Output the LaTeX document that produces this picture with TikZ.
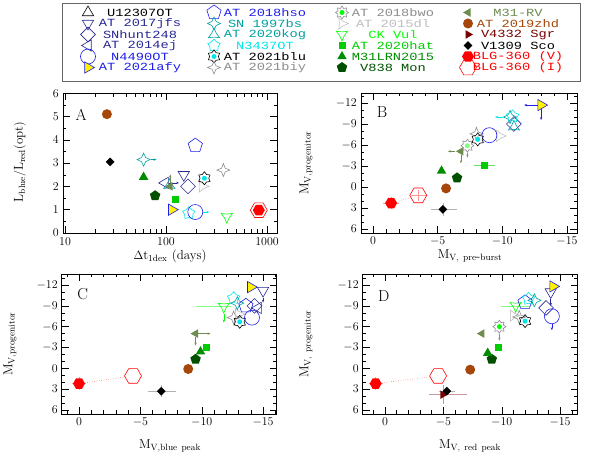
\documentclass[tikz,border=0pt]{standalone}
\usepackage{fontspec}
\usepackage{tikz}
\usetikzlibrary{shapes.geometric, arrows.meta, positioning}
\newfontfamily\legfont[FakeStretch=1.25]{Liberation Mono}
\definecolor{navyc}{RGB}{40,40,150}
\definecolor{bluec}{RGB}{30,30,235}
\definecolor{tealc}{RGB}{0,160,160}
\definecolor{cyanc}{RGB}{0,230,230}
\definecolor{grayc}{RGB}{140,140,140}
\definecolor{lgrayc}{RGB}{190,190,190}
\definecolor{ckgreen}{RGB}{0,255,0}
\definecolor{hatgreen}{RGB}{0,205,0}
\definecolor{lrngreen}{RGB}{0,140,0}
\definecolor{v838c}{RGB}{0,80,0}
\definecolor{olivec}{RGB}{110,140,80}
\definecolor{brownc}{RGB}{165,70,10}
\definecolor{maroonc}{RGB}{120,0,0}

\begin{document}
\begin{tikzpicture}[
    x=1bp, y=-1bp,
    mk/.style={inner sep=0pt, minimum size=13bp, line width=0.6pt},
    sU/.style={mk, regular polygon, regular polygon sides=3, draw=black},
    sJfs/.style={mk, regular polygon, regular polygon sides=3, shape border rotate=180, draw=navyc},
    sHunt/.style={mk, diamond, minimum size=15bp, draw=navyc},
    sEj/.style={mk, regular polygon, regular polygon sides=3, shape border rotate=90, draw=navyc},
    sN4490/.style={mk, circle, minimum size=15bp, draw=bluec},
    sAfy/.style={mk, regular polygon, regular polygon sides=3, shape border rotate=-90, draw=bluec, fill=yellow},
    sHso/.style={mk, regular polygon, regular polygon sides=5, minimum size=15bp, draw=bluec},
    sBs/.style={mk, star, star points=4, star point ratio=2.2, draw=tealc},
    sKog/.style={mk, star, star points=3, star point ratio=2.5, draw=tealc},
    sN3437/.style={mk, star, star points=5, draw=cyanc},
    sBlu/.style={mk, star, star points=6, draw=black},
    sBiy/.style={mk, star, star points=4, star point ratio=2.5, draw=grayc},
    sBwo/.style={mk, star, star points=8, draw=grayc},
    sDl/.style={mk, star, star points=3, star point ratio=2.5, shape border rotate=-90, draw=lgrayc},
    sCk/.style={mk, star, star points=3, star point ratio=2.5, shape border rotate=180, draw=ckgreen},
    sHat/.style={mk, rectangle, minimum size=7bp, fill=hatgreen},
    sLrn/.style={mk, regular polygon, regular polygon sides=3, minimum size=11bp, fill=lrngreen},
    sV838/.style={mk, regular polygon, regular polygon sides=5, minimum size=11bp, fill=v838c},
    sRv/.style={mk, regular polygon, regular polygon sides=3, shape border rotate=90, minimum size=10bp, fill=olivec},
    sZhd/.style={mk, circle, minimum size=10bp, fill=brownc},
    sV4332/.style={mk, regular polygon, regular polygon sides=3, shape border rotate=-90, minimum size=10bp, fill=maroonc},
    sV1309/.style={mk, diamond, minimum size=9bp, fill=black},
    sBlgV/.style={mk, regular polygon, regular polygon sides=6, minimum size=12bp, fill=red},
    sBlgI/.style={mk, regular polygon, regular polygon sides=6, minimum size=17bp, draw=red},
    cdot/.style={circle, inner sep=0pt, minimum size=5bp, fill=#1},
    leg/.style={font=\legfont\fontsize{11}{11}\selectfont, inner sep=0pt, text=#1},
    tick/.style={font=\fontsize{12}{12}\selectfont, inner sep=1pt},
    lab/.style={font=\fontsize{13}{13}\selectfont, inner sep=0pt},
    eb/.style={line width=0.4pt, draw=#1},
    arr/.style={-{Stealth[length=3bp]}, line width=0.5pt, draw=#1}
]
\useasboundingbox (0,0) rectangle (612,458);

% legend
\draw[gray!80!black, line width=0.8pt] (62,3) rectangle (580,81);
\foreach \s/\t/\c/\y in {sU/U12307OT/black/12.5, sJfs/AT 2017jfs/navyc/23.5, sHunt/SNhunt248/navyc/34.5,
    sEj/AT 2014ej/navyc/45.5, sN4490/N4490OT/bluec/56.5, sAfy/AT 2021afy/bluec/67.5} {
  \node[\s] at (88,\y) {};
  \node[leg=\c] at (140,\y) {\t};
}
\foreach \s/\t/\c/\y in {sHso/AT 2018hso/bluec/12.5, sBs/SN 1997bs/tealc/23.5, sKog/AT 2020kog/tealc/34.5,
    sN3437/N3437OT/cyanc/45.5, sBlu/AT 2021blu/black/56.5, sBiy/AT 2021biy/grayc/67.5} {
  \node[\s] at (214,\y) {};
  \node[leg=\c] at (265,\y) {\t};
}
\node[cdot=cyanc] (l-blu) at (214,56.5) {};
\foreach \s/\t/\c/\y in {sBwo/AT 2018bwo/grayc/12.5, sDl/AT 2015dl/lgrayc/23.5, sCk/CK Vul/ckgreen/34.5,
    sHat/AT 2020hat/hatgreen/45.5, sLrn/M31LRN2015/lrngreen/56.5, sV838/V838 Mon/v838c/67.5} {
  \node[\s] at (342,\y) {};
  \node[leg=\c] at (393,\y) {\t};
}
\node[cdot=ckgreen] (l-bwo) at (342,12.5) {};
\foreach \s/\t/\c/\y in {sRv/M31-RV/olivec/12.5, sZhd/AT 2019zhd/brownc/23.5, sV4332/V4332 Sgr/maroonc/34.5,
    sV1309/V1309 Sco/black/45.5, sBlgV/BLG-360 (V)/red/56.5, sBlgI/BLG-360 (I)/red/67.5} {
  \node[\s] at (468,\y) {};
  \node[leg=\c] at (518,\y) {\t};
}

% panel A
\begin{scope}[shift={(-36,233)}, x={(101bp,0)}, y={(0,23.3bp)}]
  \draw[line width=0.7pt] (0.98,0) rectangle (3.10,6);
  \foreach \t/\l in {1/10, 2/100, 3/1000} {
    \draw (\t,0) -- ++(0,7bp); \draw (\t,6) -- ++(0,-7bp);
    \node[tick, below=3bp] at (\t,0) {\l};
  }
  \foreach \d in {10,100} \foreach \m in {2,...,9} {
    \draw ({log10(\d*\m)},0) -- ++(0,3.5bp); \draw ({log10(\d*\m)},6) -- ++(0,-3.5bp);
  }
  \foreach \t in {0,...,6} {
    \draw (0.98,\t) -- ++(7bp,0); \draw (3.10,\t) -- ++(-7bp,0);
    \node[tick, left=3bp] at (0.98,\t) {\t};
  }
  \foreach \t in {0.5,1.5,...,5.5} {
    \draw (0.98,\t) -- ++(3.5bp,0); \draw (3.10,\t) -- ++(-3.5bp,0);
  }
  \node[lab, font=\fontsize{16}{16}\selectfont] (lA) at (1.16,5.05) {A};
  \node[sZhd] (a-zhd) at ({log10(26)},5.1) {};
  \node[sV1309] (a-v1309) at ({log10(28)},3.05) {};
  \node[sBs] (a-bs) at ({log10(60)},3.15) {};
  \draw[arr=tealc] (a-bs) -- ++(13bp,0);
  \node[sLrn] (a-lrn) at ({log10(60)},2.4) {};
  \node[sV838] (a-v838) at ({log10(78)},1.6) {};
  \node[sAfy] (a-afy) at ({log10(114)},1.0) {};
  \node[sHat] (a-hat) at ({log10(125)},1.45) {};
  \node[sEj] (a-ej) at ({log10(98)},2.15) {};
  \draw[arr=navyc] (a-ej) -- ++(14bp,0);
  \node[sKog] (a-kog) at ({log10(108)},2.05) {};
  \node[sRv] (a-rv) at ({log10(110)},2.0) {};
  \draw[arr=olivec] (a-rv) -- ++(0,12bp);
  \node[sJfs] (a-jfs) at ({log10(150)},2.5) {};
  \node[sHunt] (a-hunt) at ({log10(165)},2.0) {};
  \node[sHso] (a-hso) at ({log10(195)},3.75) {};
  \node[sN3437] (a-n3437) at ({log10(168)},0.85) {};
  \node[sN4490] (a-n4490) at ({log10(195)},0.9) {};
  \draw[arr=cyanc] (a-n4490) -- ++(14bp,0);
  \node[sDl] (a-dl) at ({log10(230)},2.0) {};
  \node[sBlu] (a-blu) at ({log10(240)},2.35) {};
  \node[cdot=cyanc] (a-bluc) at ({log10(240)},2.35) {};
  \node[sBiy] (a-biy) at ({log10(370)},2.7) {};
  \node[sCk] (a-ck) at ({log10(400)},0.7) {};
  \node[sBlgI] (a-blgi) at ({log10(830)},0.98) {};
  \node[sBlgV] (a-blgv) at ({log10(830)},0.98) {};
\end{scope}
\node[lab] (xA) at (170,256) {$\Delta\mathrm{t}_{\mathrm{1dex}}$ (days)};
\node[lab, rotate=90] (yA) at (20,162) {$\mathrm{L}_{\mathrm{blue}}/\mathrm{L}_{\mathrm{red}}\mathrm{(opt)}$};

% panel B
\begin{scope}[shift={(373,187)}, x={(-12.93bp,0)}, y={(0,-7bp)}]
  \draw[line width=0.7pt] (0.93,-13.43) rectangle (-15.8,6.57);
  \foreach \t in {0,-5,-10,-15} {
    \draw (\t,6.57) -- ++(0,7bp); \draw (\t,-13.43) -- ++(0,-7bp);
    \node[tick, below=3bp] at (\t,6.57) {$\t$};
  }
  \foreach \t in {0,-1,...,-15} {
    \draw (\t,6.57) -- ++(0,3.5bp); \draw (\t,-13.43) -- ++(0,-3.5bp);
  }
  \foreach \t in {-12,-9,...,6} {
    \draw (0.93,\t) -- ++(7bp,0); \draw (-15.8,\t) -- ++(-7bp,0);
    \node[tick, left=3bp] at (0.93,\t) {$\t$};
  }
  \foreach \t in {-13,...,6} {
    \draw (0.93,\t) -- ++(3.5bp,0); \draw (-15.8,\t) -- ++(-3.5bp,0);
  }
  \node[lab, font=\fontsize{16}{16}\selectfont] (lB) at (-0.7,-10.7) {B};
  \draw[eb=red!40] (-0.8,2.3) -- (-2.0,2.3) (-1.4,1.4) -- (-1.4,3.2);
  \draw[eb=red!40] (-2.9,1.2) -- (-4.1,1.2) (-3.5,0.4) -- (-3.5,2.0);
  \draw[eb=gray!60] (-4.5,3.2) -- (-6.5,3.2) (-5.4,2.3) -- (-5.4,4.1);
  \draw[eb=hatgreen!60] (-7.8,-3.1) -- (-9.4,-3.1);
  \node[sBlgV] (b-blgv) at (-1.4,2.3) {};
  \node[sBlgI] (b-blgi) at (-3.5,1.2) {};
  \draw[red, dotted] (b-blgv) -- (b-blgi);
  \node[sV1309] (b-v1309) at (-5.4,3.2) {};
  \node[sZhd] (b-zhd) at (-5.65,0.2) {};
  \node[sLrn] (b-lrn) at (-5.3,-2.3) {};
  \node[sV838] (b-v838) at (-6.5,-1.3) {};
  \node[sHat] (b-hat) at (-8.6,-3.1) {};
  \node[sRv] (b-rv) at (-6.8,-5.1) {};
  \draw[arr=olivec] (b-rv) -- ++(-13bp,0);
  \draw[arr=olivec] (b-rv) -- ++(0,-12bp);
  \node[sBwo] (b-bwo) at (-7.3,-5.9) {};
  \node[cdot=ckgreen!50] (b-bwoc) at (-7.3,-5.9) {};
  \draw[arr=grayc] (b-bwo) -- ++(0,-12bp);
  \node[sDl] (b-dl) at (-9.8,-7.3) {};
  \node[sBiy] (b-biy) at (-8.0,-7.6) {};
  \node[sN4490] (b-n4490) at (-9.0,-7.4) {};
  \node[sBlu] (b-blu) at (-8.1,-6.8) {};
  \node[cdot=cyanc] (b-bluc) at (-8.1,-6.8) {};
  \node[sHunt] (b-hunt) at (-10.9,-9.0) {};
  \node[sKog] (b-kog) at (-10.9,-8.6) {};
  \node[sBs] (b-bs) at (-10.6,-10.0) {};
  \draw[arr=cyanc] (b-bs) -- ++(-15bp,0);
  \node[sN3437] (b-n3437) at (-10.8,-10.1) {};
  \node[sAfy] (b-afy) at (-13.0,-11.7) {};
  \draw[arr=bluec] (b-afy) -- ++(-17bp,0);
  \draw[arr=bluec] (b-afy) -- ++(0,-15bp);
\end{scope}
\node[lab] (xB) at (470,256) {$\mathrm{M}_{\mathrm{V,\ pre\mbox{-}burst}}$};
\node[lab, rotate=90] (yB) at (306,163) {$\mathrm{M}_{\mathrm{V,progenitor}}$};

% panel C
\begin{scope}[shift={(79,368.3)}, x={(-12.27bp,0)}, y={(0,-6.94bp)}]
  \draw[line width=0.7pt] (1.4,-13.59) rectangle (-16.1,6.58);
  \foreach \t in {0,-5,-10,-15} {
    \draw (\t,6.58) -- ++(0,7bp); \draw (\t,-13.59) -- ++(0,-7bp);
    \node[tick, below=3bp] at (\t,6.58) {$\t$};
  }
  \foreach \t in {1,0,...,-16} {
    \draw (\t,6.58) -- ++(0,3.5bp); \draw (\t,-13.59) -- ++(0,-3.5bp);
  }
  \foreach \t in {-12,-9,...,6} {
    \draw (1.4,\t) -- ++(7bp,0); \draw (-16.1,\t) -- ++(-7bp,0);
    \node[tick, left=3bp] at (1.4,\t) {$\t$};
  }
  \foreach \t in {-13,...,6} {
    \draw (1.4,\t) -- ++(3.5bp,0); \draw (-16.1,\t) -- ++(-3.5bp,0);
  }
  \node[lab, font=\fontsize{16}{16}\selectfont] (lC) at (-0.3,-10.7) {C};
  \draw[eb=red!40] (0.6,2.2) -- (-0.6,2.2) (0,1.3) -- (0,3.1);
  \draw[eb=gray!60] (-5.6,3.3) -- (-7.9,3.3) (-6.7,2.4) -- (-6.7,4.2);
  \draw[eb=ckgreen!50] (-9.5,-9.0) -- (-12.4,-9.0);
  \node[sBlgV] (c-blgv) at (0,2.2) {};
  \node[sBlgI] (c-blgi) at (-4.4,1.1) {};
  \draw[red, dotted] (c-blgv) -- (c-blgi);
  \node[sV1309] (c-v1309) at (-6.7,3.3) {};
  \node[sZhd] (c-zhd) at (-8.9,0.1) {};
  \node[sV838] (c-v838) at (-9.5,-1.3) {};
  \node[sLrn] (c-lrn) at (-9.9,-2.4) {};
  \node[sHat] (c-hat) at (-10.4,-3.0) {};
  \node[sRv] (c-rv) at (-9.5,-5.0) {};
  \draw[arr=olivec] (c-rv) -- ++(15bp,0);
  \draw[arr=olivec] (c-rv) -- ++(0,-12bp);
  \node[sCk] (c-ck) at (-11.8,-8.9) {};
  \draw[arr=ckgreen] (c-ck) -- ++(0,-16bp);
  \node[sBiy] (c-biy) at (-12.6,-7.3) {};
  \node[sDl] (c-dl) at (-13.0,-7.8) {};
  \node[sBlu] (c-blu) at (-13.1,-6.7) {};
  \node[cdot=cyanc] (c-bluc) at (-13.1,-6.7) {};
  \node[sN3437] (c-n3437) at (-12.6,-10.1) {};
  \node[sBs] (c-bs) at (-12.9,-9.4) {};
  \node[sN4490] (c-n4490) at (-14.1,-7.3) {};
  \node[sHso] (c-hso) at (-13.6,-9.0) {};
  \node[sHunt] (c-hunt) at (-14.3,-9.0) {};
  \node[sEj] (c-ej) at (-14.6,-8.7) {};
  \node[sAfy] (c-afy) at (-14.0,-11.7) {};
  \node[sJfs] (c-jfs) at (-15.0,-11.2) {};
  \draw[arr=navyc] (c-jfs) -- ++(0,-12bp);
\end{scope}
\node[lab] (xC) at (170,446) {$\mathrm{M}_{\mathrm{V,blue\ peak}}$};
\node[lab, rotate=90] (yC) at (10,344) {$\mathrm{M}_{\mathrm{V,progenitor}}$};

% panel D
\begin{scope}[shift={(385,368.3)}, x={(-11.67bp,0)}, y={(0,-6.94bp)}]
  \draw[line width=0.7pt] (1.9,-13.59) rectangle (-16.5,6.58);
  \foreach \t in {0,-5,-10,-15} {
    \draw (\t,6.58) -- ++(0,7bp); \draw (\t,-13.59) -- ++(0,-7bp);
    \node[tick, below=3bp] at (\t,6.58) {$\t$};
  }
  \foreach \t in {1,0,...,-16} {
    \draw (\t,6.58) -- ++(0,3.5bp); \draw (\t,-13.59) -- ++(0,-3.5bp);
  }
  \foreach \t in {-12,-9,...,6} {
    \draw (1.9,\t) -- ++(7bp,0); \draw (-16.5,\t) -- ++(-7bp,0);
    \node[tick, left=3bp] at (1.9,\t) {$\t$};
  }
  \foreach \t in {-13,...,6} {
    \draw (1.9,\t) -- ++(3.5bp,0); \draw (-16.5,\t) -- ++(-3.5bp,0);
  }
  \node[lab, font=\fontsize{16}{16}\selectfont] (lD) at (0.1,-10.4) {D};
  \draw[eb=red!40] (1.4,2.2) -- (0.2,2.2) (0.8,1.3) -- (0.8,3.1);
  \draw[eb=maroonc!40] (-3.8,3.8) -- (-7.0,3.8) (-5.0,2.4) -- (-5.0,5.2);
  \draw[eb=gray!60] (-4.6,3.3) -- (-6.0,3.3);
  \draw[eb=ckgreen!50] (-9.9,-9.0) -- (-12.4,-9.0);
  \node[sBlgV] (d-blgv) at (0.8,2.2) {};
  \node[sBlgI] (d-blgi) at (-4.55,1.1) {};
  \draw[red, dotted] (d-blgv) -- (d-blgi);
  \node[sV4332] (d-v4332) at (-4.95,3.8) {};
  \node[sV1309] (d-v1309) at (-5.3,3.3) {};
  \node[sZhd] (d-zhd) at (-7.3,0.2) {};
  \node[sV838] (d-v838) at (-9.15,-1.3) {};
  \node[sLrn] (d-lrn) at (-8.8,-2.2) {};
  \node[sHat] (d-hat) at (-9.7,-3.0) {};
  \node[sRv] (d-rv) at (-8.3,-5.0) {};
  \node[sBwo] (d-bwo) at (-9.8,-6.0) {};
  \node[cdot=ckgreen] (d-bwoc) at (-9.8,-6.0) {};
  \draw[arr=grayc] (d-bwo) -- ++(0,-14bp);
  \node[sCk] (d-ck) at (-11.2,-9.0) {};
  \node[sDl] (d-dl) at (-11.0,-7.6) {};
  \node[sBiy] (d-biy) at (-11.5,-7.4) {};
  \node[sBlu] (d-blu) at (-12.0,-6.8) {};
  \node[cdot=cyanc] (d-bluc) at (-12.0,-6.8) {};
  \node[sHso] (d-hso) at (-12.0,-9.5) {};
  \node[sN3437] (d-n3437) at (-12.3,-10.0) {};
  \node[sBs] (d-bs) at (-12.8,-9.8) {};
  \node[sHunt] (d-hunt) at (-13.8,-8.7) {};
  \node[sN4490] (d-n4490) at (-14.3,-7.5) {};
  \draw[arr=bluec] (d-n4490) -- ++(0,-14bp);
  \node[sJfs] (d-jfs) at (-14.2,-11.0) {};
  \draw[arr=navyc] (d-jfs) -- ++(0,-14bp);
  \node[sAfy] (d-afy) at (-14.4,-11.8) {};
\end{scope}
\node[lab] (xD) at (470,446) {$\mathrm{M}_{\mathrm{V,\ red\ peak}}$};
\node[lab, rotate=90] (yD) at (306,344) {$\mathrm{M}_{\mathrm{V,\ progenitor}}$};

\end{tikzpicture}
\end{document}
